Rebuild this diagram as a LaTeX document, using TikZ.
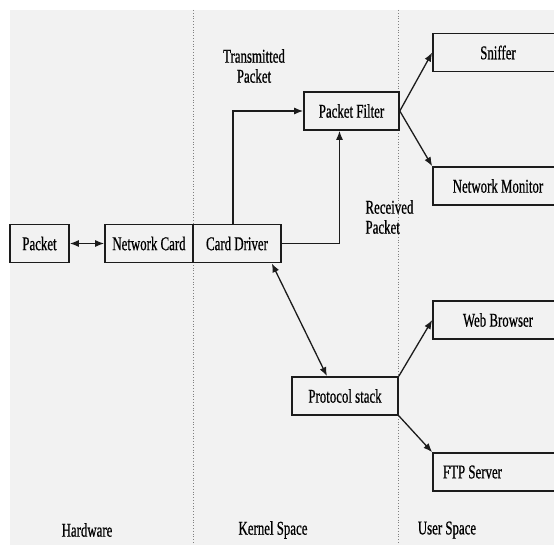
\documentclass[tikz,border=0pt]{standalone}
\usepackage{fontspec}
\setmainfont{Liberation Serif}[FakeStretch=0.66, FakeBold=0.6]
\usetikzlibrary{arrows.meta}
\definecolor{panel}{HTML}{F2F2F2}
\definecolor{ink}{HTML}{1C1C1C}
\tikzset{
  box/.style={draw=ink, line width=1.6pt, minimum height=38, inner sep=0pt},
  lbl/.style={align=center},
  tip/.style={-{Latex[length=9pt,width=7pt]}},
  tips/.style={{Latex[length=9pt,width=7pt]}-{Latex[length=9pt,width=7pt]}},
  link/.style={draw=ink, line width=1.3pt},
}
\begin{document}
\begin{tikzpicture}[x=1pt, y=-1pt, font=\fontsize{19.5}{20}\selectfont]
      \clip (0,0) rectangle (554,545);
      \fill[white] (0,0) rectangle (554,545);
      \fill[panel] (10,10) rectangle (554,545);
      % layer borders
      \draw[gray, dotted, line width=0.8pt] (193,10) -- (193,545);
      \draw[gray, dotted, line width=0.8pt] (398,10) -- (398,545);
      \draw
        (39.5,243.5) node[box, minimum width=59] (pkt){Packet}
        (149,243.5) node[box, minimum width=88] (nic){Network Card}
        (237,243.5) node[box, minimum width=88] (drv){Card Driver}
        (351.5,111) node[box, minimum width=95] (flt){Packet Filter}
        (498,52.5) node[box, minimum width=130] (snf){Sniffer}
        (498,186) node[box, minimum width=130] (mon){Network Monitor}
        (498,320) node[box, minimum width=130] (web){Web Browser}
        (498,472) node[box, text width=120, inner xsep=5pt, align=flush left] (ftp){\hspace{5pt}FTP Server}
        (345,396) node[box, minimum width=106] (stk){Protocol stack};
      \draw
        (254,66) node[lbl] (tx){Transmitted\\Packet}
        (362,217) node[anchor=west, align=flush left] (rx){Received\\Packet}
        (87,530) node (hw){Hardware}
        (273,530) node (ks){Kernel Space}
        (447,530) node (us){User Space};
      \begin{scope}[link]
        \draw[tips] (pkt) to (nic);
        \draw[tip] ([xshift=-4pt]drv.north) |- (flt.west);
        \draw[tip] (drv.east) -| ([xshift=-12pt]flt.south);
        \draw[tip] (flt.east) to (snf.west);
        \draw[tip] (flt.east) to (mon.north west);
        \draw[tips] ([xshift=-10pt]drv.south east) to ([xshift=-18pt]stk.north);
        \draw[tip] (stk.north east) to (web.west);
        \draw[tip] (stk.south east) to (ftp.north west);
      \end{scope}
    \end{tikzpicture}
\end{document}
